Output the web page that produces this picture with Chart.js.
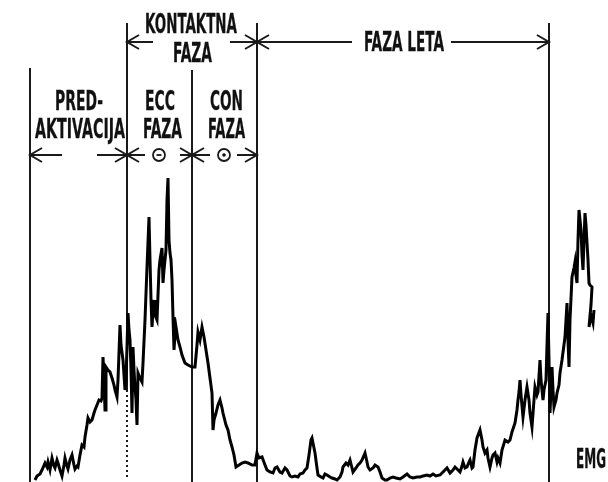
<!DOCTYPE html>
<html>
<head>
<meta charset="utf-8">
<script src="https://cdn.jsdelivr.net/npm/chart.js@4/dist/chart.umd.min.js"></script>
<style>
html,body{margin:0;padding:0;background:#fff;}
#wrap{width:608px;height:482px;position:relative;}
</style>
</head>
<body>
<div id="wrap"><canvas id="c" width="608" height="482"></canvas></div>
<script>
// Time axis (arbitrary units) and EMG amplitude (arbitrary units)
const emgTime = [35,37,40,42,45,47,48,50,52,54,55,57,58,60,62,64,65,67,68,70,72,74,75,77,78,80,82,84,85,87,88,90,92,94,95,97,99,101,102,103,104,105,106,108,110,112,114,115,117,118,120,121,123,125,126,128,129,130,131,132,133,134,135,136,137,138,140,142,143,145,147,149,150,151,152,153,154,155,157,158,159,160,162,163,164,166,167,168,169,170,171,172,173,174,175,176,178,180,182,185,188,192,195,197,198,200,202,204,206,208,210,212,213,214,216,218,220,222,223,226,228,230,232,234,236,239,242,245,248,252,255,257,259,262,265,267,270,273,275,277,280,282,285,287,290,292,295,298,300,303,305,307,309,311,312,314,315,317,318,321,323,325,327,330,332,335,337,340,342,343,346,348,350,352,353,356,358,360,362,365,367,368,370,373,375,378,380,382,385,387,390,393,396,400,403,407,410,413,417,420,423,427,430,433,436,440,443,447,450,453,455,458,460,462,463,465,467,469,470,472,473,475,477,480,482,483,485,487,488,490,492,493,495,497,498,500,502,505,508,510,512,515,517,518,519,520,521,523,525,527,529,530,532,534,535,537,538,540,541,543,544,546,547,548,549,550,551,552,553,554,556,557,559,560,562,565,566,567,568,569,570,572,574,575,576,577,578,579,580,581,582,583,584,585,586,587,588,589,590,592,591,589,591,593,594];
const emgPix = [480,476,474,470,463,467,462,470,458,466,468,460,463,470,476,465,458,466,469,460,455,465,469,466,467,455,445,447,437,425,418,422,420,413,410,405,400,401,398,357,380,410,367,370,372,378,385,390,397,380,325,345,360,390,380,313,330,340,370,413,347,370,387,400,425,373,378,382,363,320,267,217,260,300,327,310,300,315,320,295,270,260,248,283,270,250,200,178,240,253,260,280,317,350,335,327,340,347,355,363,365,367,367,345,332,340,327,337,350,363,378,393,430,420,413,405,400,408,413,425,430,440,447,455,467,465,463,462,463,465,465,453,458,457,465,470,472,473,468,467,472,473,468,470,476,477,476,477,474,473,470,468,455,440,438,448,453,468,475,477,478,474,475,477,478,479,480,477,472,467,463,465,460,468,472,468,465,463,460,453,462,467,470,468,465,467,472,478,480,480,478,477,478,479,477,474,477,478,477,477,476,475,476,474,476,475,472,468,473,470,467,470,472,466,462,468,467,462,460,468,467,450,438,430,440,447,453,450,458,467,458,455,453,462,458,463,450,440,442,440,432,423,410,400,392,380,395,417,400,387,400,413,427,400,387,395,392,360,380,400,390,380,345,313,360,413,390,367,390,407,400,393,385,373,360,337,320,303,340,367,320,277,268,262,275,283,240,210,220,230,255,270,240,213,225,243,260,283,285,287,305,327,315,323,310];
const emgAmp = emgPix.map(p => 482 - p);

// Phase boundaries on the time axis
const phaseBounds = [30, 127, 192, 257, 549];
const phaseNames = ["KONTAKTNA", "FAZA", "FAZA LETA", "PRED-", "AKTIVACIJA", "ECC", "FAZA", "CON", "FAZA", "EMG"];

const FONT = "bold 26px 'Liberation Sans Narrow', 'DejaVu Sans Condensed', 'Liberation Sans', sans-serif";

function txt(ctx, s, left, right, base) {
  ctx.save();
  ctx.font = FONT;
  ctx.textBaseline = 'alphabetic';
  ctx.textAlign = 'left';
  const w = ctx.measureText(s).width;
  const sx = (right - left) / w;
  ctx.translate(left, base);
  ctx.scale(sx, 1);
  ctx.fillStyle = '#111';
  ctx.strokeStyle = '#111';
  ctx.lineWidth = 0.3;
  ctx.fillText(s, 0, 0);
  ctx.strokeText(s, 0, 0);
  ctx.restore();
}
function hline(ctx, x1, x2, y) {
  ctx.beginPath(); ctx.moveTo(x1, y); ctx.lineTo(x2, y); ctx.stroke();
}
function head(ctx, tip, y, dir) { // dir -1 points left, +1 points right
  ctx.beginPath();
  ctx.moveTo(tip - dir * 12, y - 7);
  ctx.lineTo(tip, y);
  ctx.lineTo(tip - dir * 12, y + 7);
  ctx.stroke();
}

const annot = {
  id: 'annot',
  beforeDatasetsDraw(chart) {
    const ctx = chart.ctx;
    const X = v => chart.scales.x.getPixelForValue(v);
    const [b0, b1, b2, b3, b4] = phaseBounds.map(X);
    ctx.save();
    ctx.strokeStyle = '#1a1a1a';
    ctx.lineWidth = 2;
    const vl = (x, y1, y2) => { ctx.beginPath(); ctx.moveTo(x, y1); ctx.lineTo(x, y2); ctx.stroke(); };
    vl(b0, 68, 482);
    vl(b1, 23, 392);
    vl(b2, 70, 482);
    vl(b3, 23, 482);
    vl(b4, 23, 482);
    // dotted continuation
    ctx.setLineDash([2, 3]);
    vl(b1, 395, 480);
    ctx.setLineDash([]);

    // top row arrows
    const yT = 42;
    hline(ctx, b1, b1 + 26, yT); head(ctx, b1, yT, -1);
    hline(ctx, b1 + 103, b3, yT); head(ctx, b3, yT, 1);
    head(ctx, b3, yT, -1);
    hline(ctx, b3, 352, yT);
    hline(ctx, 451, b4, yT); head(ctx, b4, yT, 1);

    // middle row arrows
    const yM = 155;
    hline(ctx, b0, 62, yM); head(ctx, b0, yM, -1);
    hline(ctx, 97, b1, yM); head(ctx, b1, yM, 1);
    hline(ctx, b1, 145, yM); head(ctx, b1, yM, -1);
    const c1 = (b1 + b2) / 2 - 0.5;
    hline(ctx, 180, b2, yM); head(ctx, b2, yM, 1);
    hline(ctx, b2, 210, yM); head(ctx, b2, yM, -1);
    const c2 = (b2 + b3) / 2 - 0.5;
    hline(ctx, 237, b3, yM); head(ctx, b3, yM, 1);

    // circles
    ctx.lineWidth = 1.8;
    ctx.beginPath(); ctx.arc(c1, yM, 6, 0, Math.PI * 2); ctx.stroke();
    hline(ctx, c1 - 2.5, c1 + 2.5, yM);
    ctx.beginPath(); ctx.arc(c2, yM, 6, 0, Math.PI * 2); ctx.stroke();
    ctx.fillStyle = '#111';
    ctx.beginPath(); ctx.arc(c2, yM, 1.8, 0, Math.PI * 2); ctx.fill();

    // labels
    txt(ctx, phaseNames[0], 145, 237, 33);
    txt(ctx, phaseNames[1], 173, 212, 62);
    txt(ctx, phaseNames[2], 364, 444, 51);
    txt(ctx, phaseNames[3], 55, 103, 110);
    txt(ctx, phaseNames[4], 35, 125, 138);
    txt(ctx, phaseNames[5], 145, 175, 110);
    txt(ctx, phaseNames[6], 143, 182, 138);
    txt(ctx, phaseNames[7], 210, 243, 110);
    txt(ctx, phaseNames[8], 208, 245, 138);
    txt(ctx, phaseNames[9], 576, 606, 468);
    ctx.restore();
  }
};

new Chart(document.getElementById('c'), {
  type: 'line',
  data: {
    datasets: [{
      label: 'EMG',
      data: emgTime.map((t, i) => ({ x: t, y: emgAmp[i] })),
      borderColor: '#000',
      borderWidth: 3,
      pointRadius: 0,
      tension: 0,
      fill: false
    }]
  },
  options: {
    responsive: false,
    animation: false,
    layout: { padding: 0 },
    scales: {
      x: { type: 'linear', min: 0, max: 608, display: false },
      y: { type: 'linear', min: 0, max: 482, display: false }
    },
    plugins: { legend: { display: false }, tooltip: { enabled: false } }
  },
  plugins: [annot]
});
</script>
</body>
</html>
